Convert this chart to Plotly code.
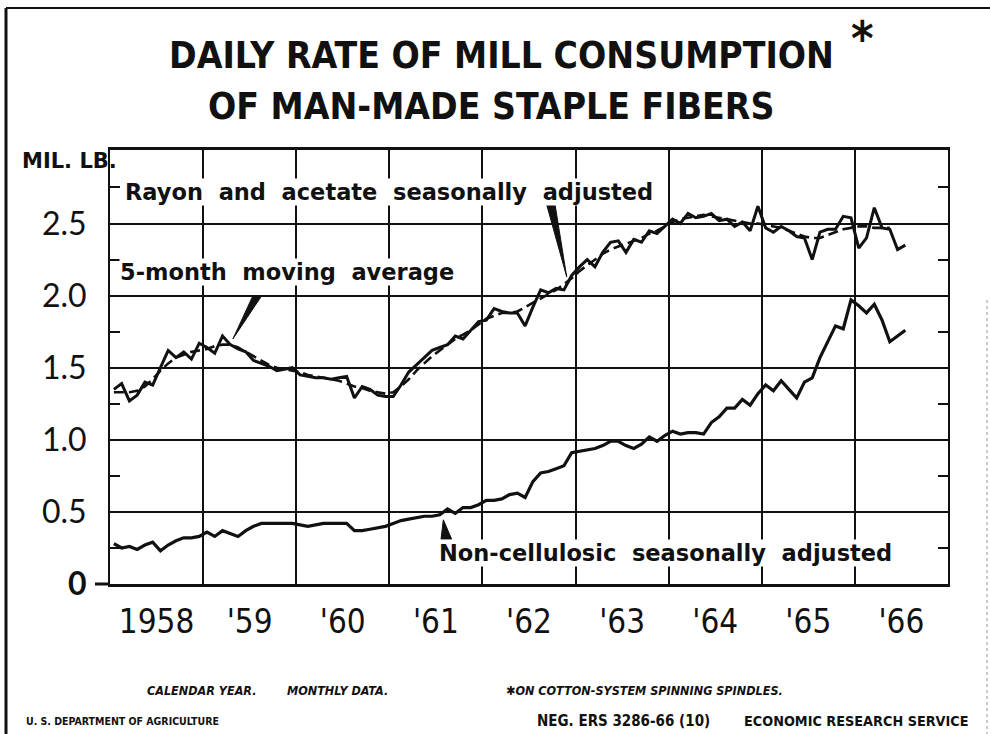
import plotly.graph_objects as go

# ---------------- data (monthly, Jan 1958 - Jul 1966), million lb per day ----------------
rayon = [1.35, 1.39, 1.27, 1.31, 1.40, 1.38, 1.50, 1.62, 1.57, 1.61, 1.56, 1.67,
         1.64, 1.60, 1.72, 1.66, 1.63, 1.61, 1.55, 1.53, 1.51, 1.48, 1.49, 1.50,
         1.45, 1.44, 1.43, 1.43, 1.42, 1.43, 1.44, 1.29, 1.37, 1.35, 1.31, 1.30,
         1.30, 1.38, 1.47, 1.52, 1.57, 1.62, 1.64, 1.66, 1.72, 1.70, 1.76, 1.82,
         1.83, 1.91, 1.89, 1.88, 1.88, 1.79, 1.92, 2.04, 2.02, 2.05, 2.04, 2.14,
         2.20, 2.25, 2.20, 2.30, 2.37, 2.38, 2.30, 2.39, 2.37, 2.45, 2.43, 2.48,
         2.53, 2.50, 2.57, 2.54, 2.55, 2.57, 2.52, 2.53, 2.48, 2.51, 2.45, 2.62,
         2.47, 2.44, 2.48, 2.45, 2.41, 2.40, 2.25, 2.44, 2.46, 2.46, 2.55, 2.54,
         2.33, 2.40, 2.61, 2.47, 2.46, 2.32, 2.35]

moving_avg = [1.33, 1.33, 1.33, 1.34, 1.37, 1.42, 1.48, 1.53, 1.57, 1.59, 1.61, 1.62,
              1.63, 1.65, 1.66, 1.66, 1.64, 1.61, 1.58, 1.55, 1.52, 1.50, 1.49, 1.48,
              1.47, 1.45, 1.44, 1.43, 1.42, 1.41, 1.39, 1.37, 1.36, 1.34, 1.33, 1.32,
              1.33, 1.37, 1.42, 1.48, 1.53, 1.58, 1.62, 1.66, 1.70, 1.73, 1.76, 1.80,
              1.84, 1.86, 1.88, 1.88, 1.89, 1.92, 1.95, 1.98, 2.01, 2.04, 2.08, 2.12,
              2.17, 2.21, 2.25, 2.29, 2.32, 2.34, 2.36, 2.38, 2.40, 2.43, 2.45, 2.48,
              2.51, 2.53, 2.54, 2.55, 2.56, 2.55, 2.54, 2.53, 2.52, 2.51, 2.50, 2.50,
              2.49, 2.48, 2.47, 2.45, 2.43, 2.41, 2.40, 2.40, 2.42, 2.44, 2.46, 2.47,
              2.48, 2.48, 2.47, 2.47, 2.47, None, None]

noncellulosic = [0.28, 0.25, 0.26, 0.24, 0.27, 0.29, 0.23, 0.27, 0.30, 0.32, 0.32, 0.33,
                 0.36, 0.33, 0.37, 0.35, 0.33, 0.37, 0.40, 0.42, 0.42, 0.42, 0.42, 0.42,
                 0.41, 0.40, 0.41, 0.42, 0.42, 0.42, 0.42, 0.37, 0.37, 0.38, 0.39, 0.40,
                 0.42, 0.44, 0.45, 0.46, 0.47, 0.47, 0.48, 0.52, 0.49, 0.53, 0.53, 0.55,
                 0.58, 0.58, 0.59, 0.62, 0.63, 0.60, 0.71, 0.77, 0.78, 0.80, 0.82, 0.91,
                 0.92, 0.93, 0.94, 0.96, 0.99, 0.99, 0.96, 0.94, 0.97, 1.02, 0.99, 1.03,
                 1.06, 1.04, 1.05, 1.05, 1.04, 1.12, 1.16, 1.22, 1.22, 1.28, 1.24, 1.32,
                 1.38, 1.34, 1.41, 1.35, 1.29, 1.40, 1.43, 1.57, 1.68, 1.79, 1.77, 1.97,
                 1.93, 1.88, 1.94, 1.83, 1.68, 1.72, 1.76]

years = [1958, 1959, 1960, 1961, 1962, 1963, 1964, 1965, 1966]
year_labels = ["1958", "'59", "'60", "'61", "'62", "'63", "'64", "'65", "'66"]
y_tickvals = [0, 0.5, 1.0, 1.5, 2.0, 2.5]
y_ticktext = ["<b>0</b>", "0.5", "1.0", "1.5", "2.0", "2.5"]

START = 1958
x_month = [START + (k + 0.5) / 12 for k in range(len(rayon))]

# ---------------- layout geometry helpers (pixels -> paper) ----------------
PL, PR, PT, PB = 110, 948, 150, 584
def px(xp):
    return (xp - PL) / (PR - PL)
def py(yp):
    return (PB - yp) / (PB - PT)

BLACK = "#111111"
COND = "DejaVu Sans Condensed, Liberation Sans, Arial, sans-serif"
SANS = "DejaVu Sans, sans-serif"

fig = go.Figure()
fig.add_trace(go.Scatter(x=x_month, y=moving_avg, mode="lines",
                         line=dict(color=BLACK, width=2.6, dash="10px,5px"),
                         connectgaps=False, showlegend=False, hoverinfo="skip"))
fig.add_trace(go.Scatter(x=x_month, y=rayon, mode="lines",
                         line=dict(color=BLACK, width=3), showlegend=False))
fig.add_trace(go.Scatter(x=x_month, y=noncellulosic, mode="lines",
                         line=dict(color=BLACK, width=3.2), showlegend=False))

fig.update_layout(
    width=990, height=734, autosize=False,
    margin=dict(l=PL, r=990 - PR, t=PT, b=734 - PB, pad=0),
    paper_bgcolor="white", plot_bgcolor="white",
    showlegend=False,
)

fig.update_xaxes(
    range=[1958, 1967], showline=True, linecolor=BLACK, linewidth=3, mirror=True,
    tickmode="array", tickvals=[y + 0.5 for y in years], ticktext=year_labels,
    ticks="", showgrid=False, zeroline=False,
    tickfont=dict(family=COND, size=33, color=BLACK),
    ticklabelstandoff=6,
    minor=dict(tickvals=years + [1967], showgrid=True, gridcolor=BLACK, gridwidth=2,
               ticks=""),
)
fig.update_yaxes(
    range=[0, 3.01], showline=True, linecolor=BLACK, linewidth=2, mirror="ticks",
    tickmode="array", tickvals=y_tickvals, ticktext=y_ticktext,
    ticks="", showgrid=True, gridcolor=BLACK, gridwidth=2, zeroline=False,
    tickfont=dict(family="Lato", size=32, color=BLACK),
    ticklabelstandoff=15,
    minor=dict(tickvals=[0.25, 0.75, 1.25, 1.75, 2.25, 2.75], ticks="inside",
               ticklen=10, tickwidth=2, tickcolor=BLACK, showgrid=False),
)

shapes = []
# outer frame
shapes.append(dict(type="line", xref="paper", yref="paper", x0=px(6), x1=px(6),
                   y0=py(8), y1=py(734), line=dict(color=BLACK, width=3)))
shapes.append(dict(type="line", xref="paper", yref="paper", x0=px(6), x1=px(990),
                   y0=py(8), y1=py(8), line=dict(color=BLACK, width=2)))
shapes.append(dict(type="line", xref="paper", yref="paper", x0=px(987), x1=px(987),
                   y0=py(300), y1=py(734), line=dict(color="#bbbbbb", width=1.5, dash="dot")))
# zero axis extension to the left
shapes.append(dict(type="line", xref="paper", yref="paper", x0=px(95), x1=px(110),
                   y0=0, y1=0, line=dict(color=BLACK, width=3)))
# pointer wedges (in data coords)
shapes.append(dict(type="path", xref="x", yref="y",
                   path="M 1959.535 2.0 L 1959.63 2.0 L 1959.32 1.70 Z",
                   fillcolor=BLACK, line=dict(color=BLACK, width=1)))
shapes.append(dict(type="path", xref="x", yref="y",
                   path="M 1962.69 2.63 L 1962.78 2.63 L 1962.905 2.13 Z",
                   fillcolor=BLACK, line=dict(color=BLACK, width=1)))
shapes.append(dict(type="path", xref="x", yref="y",
                   path="M 1961.555 0.31 L 1961.67 0.31 L 1961.58 0.445 Z",
                   fillcolor=BLACK, line=dict(color=BLACK, width=1)))
fig.update_layout(shapes=shapes)

ann = []
def add(text, x, y, size, family=SANS, xanchor="center", yanchor="middle",
        weight="bold", style="normal", xref="paper", yref="paper", bg=None):
    d = dict(text=text, x=x, y=y, xref=xref, yref=yref, showarrow=False,
             xanchor=xanchor, yanchor=yanchor,
             font=dict(family=family, size=size, color=BLACK, weight=weight, style=style))
    if bg:
        d["bgcolor"] = bg
        d["borderpad"] = 0
    ann.append(d)

# titles
add("DAILY RATE OF MILL CONSUMPTION", px(501), py(55), 37, family=COND)
add("*", px(862), py(38), 48, family=COND)
add("OF MAN-MADE STAPLE FIBERS", px(491), py(106), 37, family=COND)
# unit
add("MIL. LB.", px(20), py(161), 21, family=SANS, xanchor="left")
# in-plot labels
add("Rayon\u00a0 and\u00a0 acetate\u00a0 seasonally\u00a0 adjusted", 1958.15, 2.72, 22.5,
    xref="x", yref="y", xanchor="left", bg="white")
add("5-month\u00a0 moving\u00a0 average", 1958.1, 2.165, 22.5, xref="x", yref="y",
    xanchor="left", bg="white")
add("Non-cellulosic\u00a0 seasonally\u00a0 adjusted", 1961.52, 0.215, 22.5, xref="x", yref="y",
    xanchor="left", bg="white")
# footnotes
add("CALENDAR YEAR.", px(202), py(690), 12.5, family=COND, style="italic")
add("MONTHLY DATA.", px(337), py(690), 12.5, family=COND, style="italic")
add("\u2731ON COTTON-SYSTEM SPINNING SPINDLES.", px(504), py(690), 12.5,
    family=COND, style="italic", xanchor="left")
add("U. S. DEPARTMENT OF AGRICULTURE", px(24), py(721), 10.5,
    family=COND, xanchor="left")
add("NEG. ERS 3286-66 (10)", px(535), py(721), 15, family=COND, xanchor="left")
add("ECONOMIC RESEARCH SERVICE", px(971), py(721), 14.3, family=COND, xanchor="right")
fig.update_layout(annotations=ann)

fig.write_html("out.html", config={"displayModeBar": False},
               post_script="document.body.style.margin='0';")
